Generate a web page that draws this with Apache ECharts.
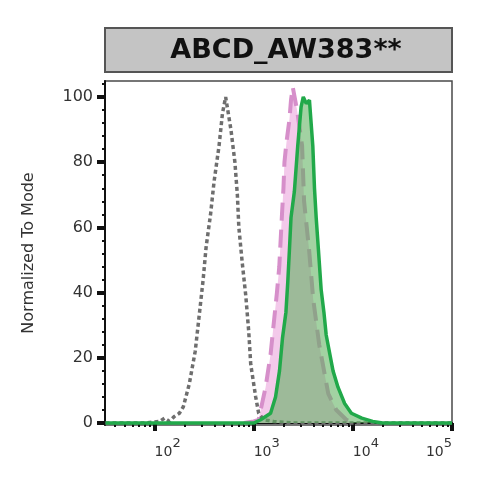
<!DOCTYPE html>
<html>
<head>
<meta charset="utf-8">
<script src="https://cdn.jsdelivr.net/npm/echarts@6/dist/echarts.min.js"></script>
<style>html,body{margin:0;padding:0;background:#fff}#c{width:490px;height:490px}</style>
</head>
<body>
<div id="c"></div>
<script>
// ---- data (fluorescence intensity, normalized count) ----
const titleText = 'ABCD_AW383**';
const yAxisName = 'Normalized To Mode';
const xMajorTicks = [100, 1000, 10000, 100000];
const xMinorTicks = [40, 50, 60, 70, 80, 90, 200, 300, 400, 500, 600, 700, 800, 900,
  2000, 3000, 4000, 5000, 6000, 7000, 8000, 9000, 20000, 30000, 40000, 50000, 60000, 70000, 80000, 90000];
const yMajorTicks = [0, 20, 40, 60, 80, 100];
const yMinorTicks = [4, 8, 12, 16, 24, 28, 32, 36, 44, 48, 52, 56, 64, 68, 72, 76, 84, 88, 92, 96, 104];

const grayX = [32, 79, 112, 126, 141, 158, 178, 195, 224, 257, 282, 309, 331, 367, 398, 447, 484, 521, 589, 646, 684, 708, 767, 832, 891, 933, 1047, 1122, 1259, 1585, 2512, 100000];
const grayY = [0, 0, 0.5, 1.5, 0.5, 2, 3, 5, 12, 22, 33, 44, 54, 64, 74, 85, 95, 100, 90, 80, 70, 60, 49, 39, 28, 18, 8, 3, 1, 0.5, 0, 0];

const pinkX = [794, 1000, 1122, 1175, 1318, 1479, 1549, 1714, 1811, 1928, 1995, 2042, 2138, 2291, 2377, 2477, 2735, 3076, 3221, 3622, 3981, 4581, 5649, 6808, 8590, 10000];
const pinkY = [0, 0.5, 1, 4, 11, 21, 27, 40, 48, 64, 72, 80, 86, 93, 99, 103, 96, 85, 68, 53, 38, 24, 9, 4, 1, 0];

const greenX = [32, 1000, 1175, 1479, 1660, 1820, 1950, 2113, 2203, 2291, 2377, 2570, 2780, 3006, 3162, 3388, 3648, 3945, 4102, 4266, 4498, 4786, 5105, 5383, 6310, 7079, 8260, 9661, 12303, 15849, 19953, 100000];
const greenY = [0, 0, 1, 3, 8, 16, 26, 34, 43, 53, 63, 71, 85, 97, 100, 98, 99, 85, 72, 63, 53, 41, 34, 27, 16, 11, 6, 3, 1.5, 0.5, 0, 0];

function pairs(xs, ys) { return xs.map((x, i) => [x, ys[i]]); }

const FONT = 'DejaVu Sans';
const chart = echarts.init(document.getElementById('c'), null, { renderer: 'canvas' });
const xBase = { type: 'log', logBase: 10, min: Math.pow(10, 1.5), max: 100000, position: 'bottom', splitLine: { show: false } };
const yBase = { type: 'value', min: -0.6, max: 104.9, position: 'left', splitLine: { show: false } };

chart.setOption({
  animation: false,
  backgroundColor: '#fff',
  grid: { left: 105, right: 38, top: 81, bottom: 65, show: true, borderColor: '#4a4a4a', borderWidth: 1.5, backgroundColor: 'transparent' },
  graphic: [
    { type: 'rect', shape: { x: 105, y: 28, width: 347, height: 44 }, style: { fill: '#c4c4c4', stroke: '#555', lineWidth: 2 } },
    { type: 'text', x: 286, y: 51, style: { text: titleText, fontSize: 27, fontWeight: 'bold', fontFamily: FONT, fill: '#111', align: 'center', verticalAlign: 'middle', textAlign: 'center', textVerticalAlign: 'middle' } }
  ],
  xAxis: [
    Object.assign({}, xBase, {
      axisLine: { show: true, lineStyle: { color: '#111', width: 2 } },
      axisTick: { show: true, customValues: xMajorTicks, length: 8, lineStyle: { color: '#111', width: 4 } },
      axisLabel: {
        show: true, customValues: xMajorTicks, margin: 19, align: 'left', alignMaxLabel: 'right',
        formatter: v => '{b|10}{s|' + Math.round(Math.log10(v)) + '}',
        rich: {
          b: { fontSize: 14, fontFamily: FONT, color: '#333', lineHeight: 16 },
          s: { fontSize: 13, fontFamily: FONT, color: '#333', lineHeight: 16, padding: [0, 0, 16, 0] }
        }
      }
    }),
    Object.assign({}, xBase, {
      axisLine: { show: false },
      axisTick: { show: true, customValues: xMinorTicks, length: 4, lineStyle: { color: '#111', width: 2 } },
      axisLabel: { show: false }
    })
  ],
  yAxis: [
    Object.assign({}, yBase, {
      name: yAxisName, nameLocation: 'middle', nameGap: 68,
      nameTextStyle: { fontSize: 16, fontFamily: FONT, color: '#333' },
      axisLine: { show: true, lineStyle: { color: '#111', width: 2 } },
      axisTick: { show: true, customValues: yMajorTicks, length: 8, lineStyle: { color: '#111', width: 4 } },
      axisLabel: { show: true, customValues: yMajorTicks, margin: 12, fontSize: 16, fontFamily: FONT, color: '#333' }
    }),
    Object.assign({}, yBase, {
      axisLine: { show: false },
      axisTick: { show: true, customValues: yMinorTicks, length: 3, lineStyle: { color: '#111', width: 2 } },
      axisLabel: { show: false }
    })
  ],
  series: [
    {
      name: 'pink', type: 'line', xAxisIndex: 0, yAxisIndex: 0, data: pairs(pinkX, pinkY),
      showSymbol: false, symbol: 'none', z: 2,
      lineStyle: { color: '#d68fca', width: 4, type: [18, 9] },
      areaStyle: { color: '#f3c9ea', opacity: 1 }
    },
    {
      name: 'gray', type: 'line', xAxisIndex: 0, yAxisIndex: 0, data: pairs(grayX, grayY),
      showSymbol: false, symbol: 'none', z: 3,
      lineStyle: { color: '#6e6e6e', width: 3.5, type: [4, 3] }
    },
    {
      name: 'green', type: 'line', xAxisIndex: 0, yAxisIndex: 0, data: pairs(greenX, greenY),
      showSymbol: false, symbol: 'none', z: 4,
      lineStyle: { color: '#21a94a', width: 3.5 },
      areaStyle: { color: 'rgba(90,175,90,0.8)' }
    }
  ]
});
</script>
</body>
</html>
